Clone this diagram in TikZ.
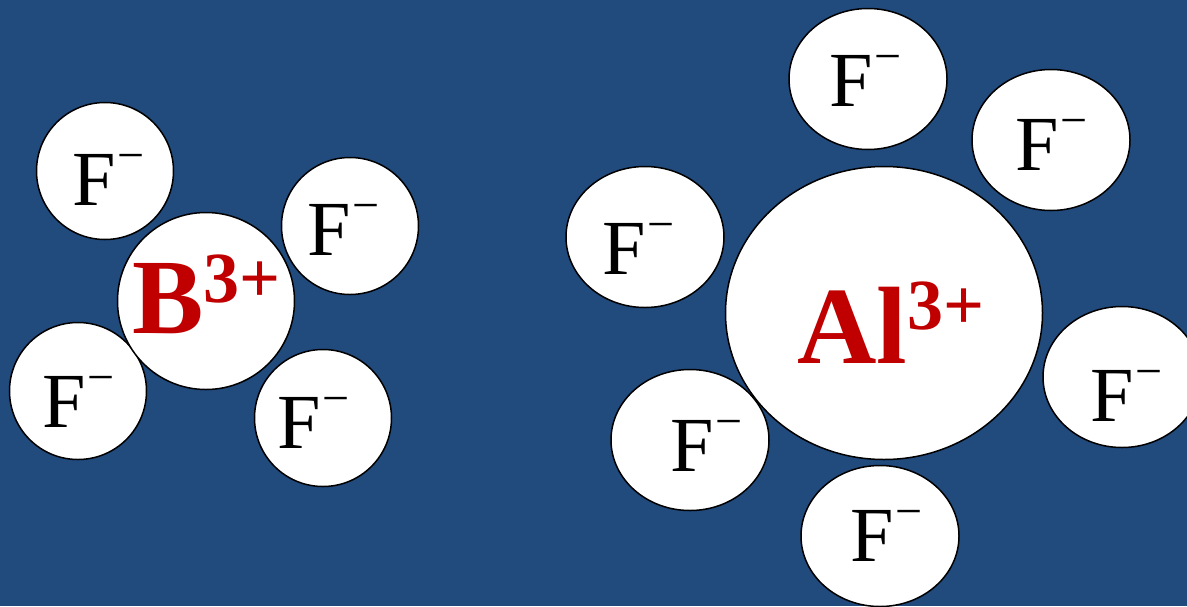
\documentclass[tikz,border=0pt]{standalone}
\usepackage{fontspec}
\setmainfont{Liberation Serif}
\usepackage{tikz}
\usetikzlibrary{shapes.geometric}

\definecolor{slide}{RGB}{33,74,125}
\definecolor{cation}{RGB}{192,0,0}

\newcommand{\fminus}{F\kern2pt\raisebox{34pt}{\fontsize{48}{48}\selectfont −}}
\newcommand{\threeplus}[1]{\raisebox{#1}{\fontsize{72}{72}\selectfont 3+}}

\begin{document}
\begin{tikzpicture}[
  x=1pt,
  y=-1pt,
  ion/.style={ellipse, draw=black, line width=1.5pt, fill=white, inner sep=0pt},
  fsmall/.style={ion, minimum width=137pt, minimum height=137pt},
  fbig/.style={ion, minimum width=158pt, minimum height=141pt},
  ftext/.style={anchor=base west, inner sep=0pt, font=\fontsize{78}{78}\selectfont},
  ctext/.style={anchor=base west, inner sep=0pt, text=cation}
]
  \useasboundingbox (0,0) rectangle (1187,606);
  \clip (0,0) rectangle (1187,606);
  \fill[slide] (0,0) rectangle (1187,606);

  % B3+ with four F-
  \node[fsmall] (bf1) at (105,171) {};
  \node[fsmall] (bf2) at (350,226) {};
  \node[fsmall] (bf3) at (78,391) {};
  \node[fsmall] (bf4) at (323,418) {};
  \node[ion, minimum width=177pt, minimum height=177pt] (b) at (206,301) {};

  \node[ftext] (bf1t) at (72,205) {\fminus};
  \node[ftext] (bf2t) at (307,255) {\fminus};
  \node[ftext] (bf3t) at (42,427) {\fminus};
  \node[ftext] (bf4t) at (277,448) {\fminus};
  \node[ctext, font=\fontsize{107}{107}\selectfont\bfseries] (bt) at (132,333) {B\threeplus{31pt}};

  % Al3+ with six F-
  \node[fbig] (alf1) at (868,79) {};
  \node[fbig] (alf2) at (1051,140) {};
  \node[fbig] (alf3) at (645,237) {};
  \node[fbig] (alf4) at (1122,377) {};
  \node[fbig] (alf5) at (690,440) {};
  \node[fbig] (alf6) at (880,536) {};
  \node[ion, minimum width=317pt, minimum height=293pt] (al) at (884,313) {};

  \node[ftext] (alf1t) at (829,106) {\fminus};
  \node[ftext] (alf2t) at (1015,170) {\fminus};
  \node[ftext] (alf3t) at (602,274) {\fminus};
  \node[ftext] (alf4t) at (1090,421) {\fminus};
  \node[ftext] (alf5t) at (670,471) {\fminus};
  \node[ftext] (alf6t) at (850,561) {\fminus};
  \node[ctext, font=\fontsize{110}{110}\selectfont\bfseries] (alt) at (797,363) {Al\threeplus{34pt}};
\end{tikzpicture}
\end{document}
